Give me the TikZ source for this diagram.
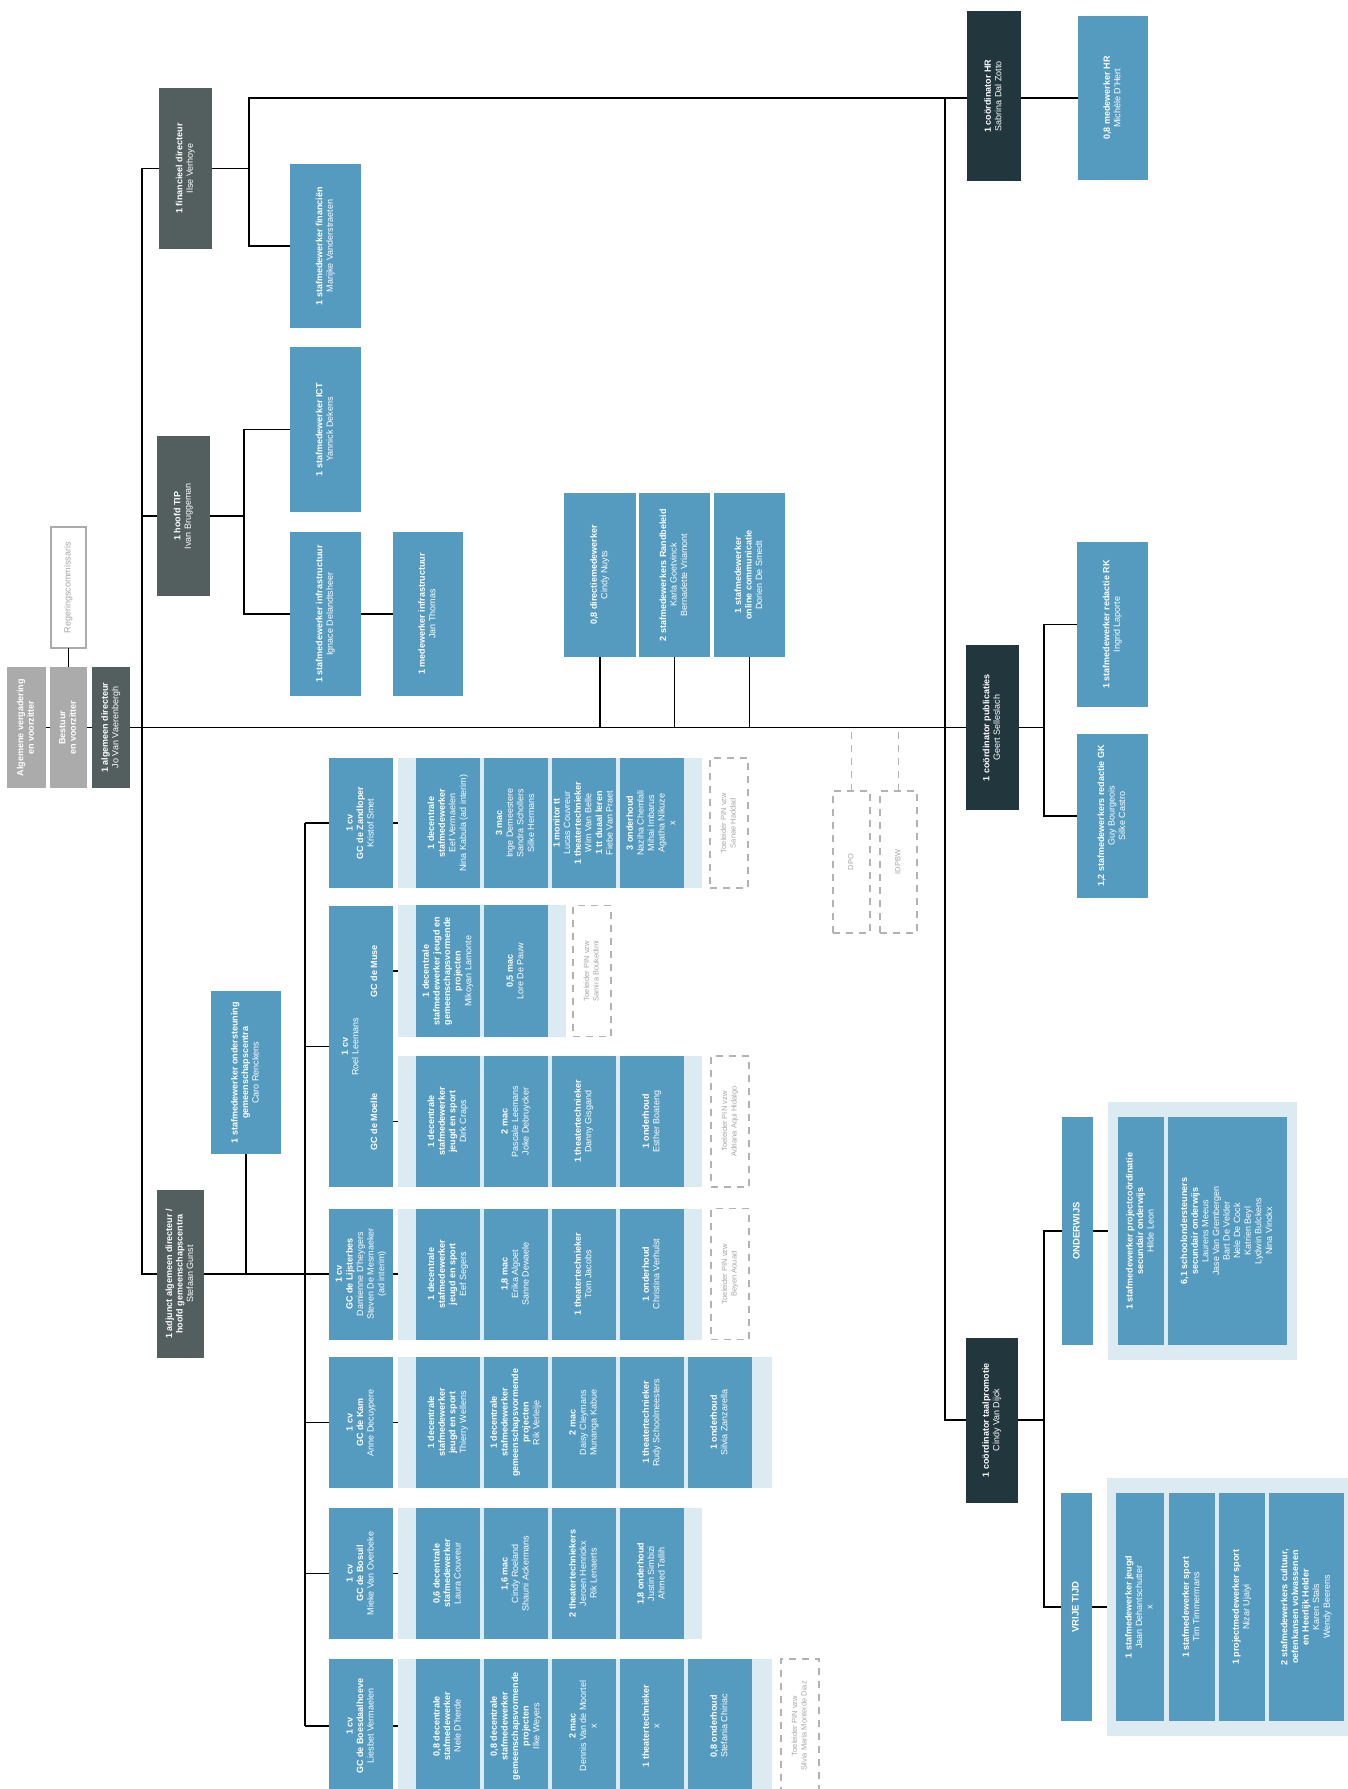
\documentclass[tikz,border=0pt]{standalone}
\usepackage{fontspec}
\setmainfont{Liberation Sans}
\usepackage{graphicx}
\usepackage{xcolor}

\definecolor{dirgrey}{HTML}{525F5E}
\definecolor{navy}{HTML}{22363E}
\definecolor{cellblue}{HTML}{559BBF}
\definecolor{striplight}{HTML}{DCEAF2}
\definecolor{govgrey}{HTML}{ABABAB}
\definecolor{dashgrey}{HTML}{B3B3B3}
\definecolor{textgrey}{HTML}{A6A6A6}

\newcommand{\boxtext}[1]{\rotatebox{90}{\begin{tabular}{@{}c@{}}#1\end{tabular}}}

\begin{document}
\begin{tikzpicture}[x=1pt, y=-1pt,
    box/.style={inner sep=0pt, outer sep=0pt, text=white, font=\fontsize{9}{10.6}\selectfont},
    dirbox/.style={box, fill=dirgrey},
    coordbox/.style={box, fill=navy},
    cell/.style={box, fill=cellblue},
    govbox/.style={box, fill=govgrey},
    strip/.style={inner sep=0pt, outer sep=0pt, fill=striplight},
    pinbox/.style={box, draw=dashgrey, line width=1.8pt, dash pattern=on 7pt off 6pt, text=textgrey, font=\fontsize{7.5}{9.5}\selectfont},
    link/.style={line width=1.4pt},
    duolink/.style={line width=1.8pt, draw=dashgrey, dash pattern=on 7pt off 6pt}]

    \useasboundingbox (0,0) rectangle (1348,1789);
    \clip (0,0) rectangle (1348,1789);
    \fill[white] (0,0) rectangle (1348,1789);

    % bestuur en directie
    \node[govbox, minimum width=39, minimum height=121] (av) at (26.5,727.5) {\boxtext{\textbf{Algemene vergadering}\\\textbf{en voorzitter}}};
    \node[govbox, minimum width=37, minimum height=121] (bestuur) at (68.5,727.5) {\boxtext{\textbf{Bestuur}\\\textbf{en voorzitter}}};
    \node[box, fill=white, draw=govgrey, line width=1.8pt, text=textgrey, minimum width=35, minimum height=121] (rc) at (68.5,587.5) {\boxtext{Regeringscommissaris}};
    \node[dirbox, minimum width=38, minimum height=121] (dir) at (111,727.5) {\boxtext{\textbf{1 algemeen directeur}\\Jo Van Vaerenbergh}};

    \node[dirbox, minimum width=53, minimum height=161] (fin) at (185.5,168.5) {\boxtext{\textbf{1 financieel directeur}\\Ilse Verhoye}};
    \node[cell, minimum width=71, minimum height=164] (sfin) at (325.5,246) {\boxtext{\textbf{1 stafmedewerker financiën}\\Marijke Vanderstraeten}};

    \node[dirbox, minimum width=53, minimum height=160] (tip) at (183.5,516) {\boxtext{\textbf{1 hoofd TIP}\\Ivan Bruggeman}};
    \node[cell, minimum width=71, minimum height=165] (ict) at (325.5,429.5) {\boxtext{\textbf{1 stafmedewerker ICT}\\Yannick Dekens}};
    \node[cell, minimum width=71, minimum height=164] (infra) at (325.5,614) {\boxtext{\textbf{1 stafmedewerker infrastructuur}\\Ignace Delandtsheer}};
    \node[cell, minimum width=70, minimum height=164] (minfra) at (428,614) {\boxtext{\textbf{1 medewerker infrastructuur}\\Jan Thomas}};

    \node[cell, minimum width=72, minimum height=164] (dm1) at (600,575) {\boxtext{\textbf{0,8 directiemedewerker}\\Cindy Nuyts}};
    \node[cell, minimum width=71, minimum height=164] (dm2) at (674.5,575) {\boxtext{\textbf{2 stafmedewerkers Randbeleid}\\Karla Goetvinck\\Bernadette Vriamont}};
    \node[cell, minimum width=71, minimum height=164] (dm3) at (749.5,575) {\boxtext{\textbf{1 stafmedewerker}\\\textbf{online communicatie}\\Dorien De Smedt}};

    \node[pinbox, minimum width=37, minimum height=142] (dpo) at (851.5,862) {\boxtext{DPO}};
    \node[pinbox, minimum width=37, minimum height=142] (idpbw) at (898.5,862) {\boxtext{IDPBW}};

    % coordinatoren
    \node[coordbox, minimum width=54, minimum height=170] (hr) at (994,96) {\boxtext{\textbf{1 coördinator HR}\\Sabrina Dal Zotto}};
    \node[cell, minimum width=70, minimum height=164] (mhr) at (1113,98) {\boxtext{\textbf{0,8 medewerker HR}\\Michèle D'Hert}};

    \node[coordbox, minimum width=53, minimum height=165] (pub) at (992.5,727.5) {\boxtext{\textbf{1 coördinator publicaties}\\Geert Selleslach}};
    \node[cell, minimum width=71, minimum height=165] (rk) at (1112.5,624.5) {\boxtext{\textbf{1 stafmedewerker redactie RK}\\Ingrid Laporte}};
    \node[cell, minimum width=71, minimum height=164] (gk) at (1112.5,816) {\boxtext{\textbf{1,2 stafmedewerkers redactie GK}\\Guy Bourgeois\\Silke Castro}};

    \node[coordbox, minimum width=52, minimum height=165] (taal) at (992,1420) {\boxtext{\textbf{1 coördinator taalpromotie}\\Cindy Van Dijck}};
    \node[cell, minimum width=31, minimum height=228] (ond) at (1077.5,1231) {\boxtext{\fontsize{9.5}{11}\selectfont\textbf{ONDERWIJS}}};
    \node[strip, minimum width=189, minimum height=258] (ondstrip) at (1202.5,1231) {};
    \node[cell, minimum width=46, minimum height=228] (ond1) at (1141,1231) {\boxtext{\textbf{1 stafmedewerker projectcoördinatie}\\\textbf{secundair onderwijs}\\Hilde Leon}};
    \node[cell, minimum width=119, minimum height=228] (ond2) at (1227.5,1231) {\boxtext{\textbf{6,1 schoolondersteuners}\\\textbf{secundair onderwijs}\\Laurens Meeus\\Jase Van Grembergen\\Bart De Velder\\Nele De Cock\\Katrien Beyl\\Lydwin Bulckens\\Nina Vinckx}};

    \node[cell, minimum width=31, minimum height=228] (vt) at (1076.5,1607) {\boxtext{\fontsize{9.5}{11}\selectfont\textbf{VRIJE TIJD}}};
    \node[strip, minimum width=241, minimum height=258] (vtstrip) at (1227.5,1607) {};
    \node[cell, minimum width=48, minimum height=228] (vt1) at (1140,1607) {\boxtext{\textbf{1 stafmedewerker jeugd}\\Jaan Dehantschutter\\x}};
    \node[cell, minimum width=46, minimum height=228] (vt2) at (1192,1607) {\boxtext{\textbf{1 stafmedewerker sport}\\Tim Timmermans}};
    \node[cell, minimum width=46, minimum height=228] (vt3) at (1242,1607) {\boxtext{\textbf{1 projectmedewerker sport}\\Nizar Ujaiyi}};
    \node[cell, minimum width=75, minimum height=228] (vt4) at (1306.5,1607) {\boxtext{\textbf{2 stafmedewerkers cultuur,}\\\textbf{oefenkansen volwassenen}\\\textbf{en Heerlijk Helder}\\Karen Stals\\Wendy Beerens}};

    % gemeenschapscentra
    \node[cell, minimum width=70, minimum height=163] (onst) at (246,1072.5) {\boxtext{\textbf{1 stafmedewerker ondersteuning}\\\textbf{gemeenschapscentra}\\Caro Renckens}};
    \node[dirbox, minimum width=47, minimum height=168] (adj) at (180.5,1274) {\boxtext{\textbf{1 adjunct algemeen directeur /}\\\textbf{hoofd gemeenschapscentra}\\Stefaan Gunst}};

    % GC de Zandloper
    \node[cell, minimum width=64, minimum height=130] (zand) at (361,823) {\boxtext{\textbf{1 cv}\\\textbf{GC de Zandloper}\\Kristof Smet}};
    \node[strip, minimum width=304, minimum height=130] (zandstrip) at (550,823) {};
    \node[cell, minimum width=64, minimum height=130] (zand1) at (448,823) {\boxtext{\textbf{1 decentrale}\\\textbf{stafmedewerker}\\Eef Vermaelen\\Nina Kabula (ad interim)}};
    \node[cell, minimum width=64, minimum height=130] (zand2) at (516,823) {\boxtext{\textbf{3 mac}\\Inge Demeestere\\Sandra Schollers\\Silke Hermans}};
    \node[cell, minimum width=64, minimum height=130] (zand3) at (584,823) {\boxtext{\textbf{1 monitor tt}\\Lucas Couvreur\\\textbf{1 theatertechnieker}\\Wim Van Belle\\\textbf{1 tt duaal leren}\\Fiebe Van Praet}};
    \node[cell, minimum width=64, minimum height=130] (zand4) at (652,823) {\boxtext{\textbf{3 onderhoud}\\Naziha Chemlali\\Mihai Imbarus\\Agatha Nikuze\\x}};
    \node[pinbox, minimum width=38, minimum height=130] (zandpin) at (729,823) {\boxtext{Toeleider PIN vzw\\Sanae Haddad}};

    % GC de Muse en GC de Moelle
    \node[cell, minimum width=64, minimum height=281] (mm) at (361,1046.5) {};
    \node[box] (mmmuse) at (375,971) {\boxtext{\textbf{GC de Muse}}};
    \node[box] (mmcv) at (351,1046.5) {\boxtext{\textbf{1 cv}\\Roel Leemans}};
    \node[box] (mmmoelle) at (375,1121.5) {\boxtext{\textbf{GC de Moelle}}};

    \node[strip, minimum width=168, minimum height=132] (musestrip) at (482,971) {};
    \node[cell, minimum width=64, minimum height=132] (muse1) at (448,971) {\boxtext{\textbf{1 decentrale}\\\textbf{stafmedewerker jeugd en}\\\textbf{gemeenschapsvormende}\\\textbf{projecten}\\Mikoyan Lamonte}};
    \node[cell, minimum width=64, minimum height=132] (muse2) at (516,971) {\boxtext{\textbf{0,5 mac}\\Lore De Pauw}};
    \node[pinbox, minimum width=38, minimum height=131] (musepin) at (592,971) {\boxtext{Toeleider PIN vzw\\Samira Boukedimi}};

    \node[strip, minimum width=304, minimum height=131] (moellestrip) at (550,1121.5) {};
    \node[cell, minimum width=64, minimum height=131] (moelle1) at (448,1121.5) {\boxtext{\textbf{1 decentrale}\\\textbf{stafmedewerker}\\\textbf{jeugd en sport}\\Dirk Craps}};
    \node[cell, minimum width=64, minimum height=131] (moelle2) at (516,1121.5) {\boxtext{\textbf{2 mac}\\Pascale Leemans\\Joke Debruycker}};
    \node[cell, minimum width=64, minimum height=131] (moelle3) at (584,1121.5) {\boxtext{\textbf{1 theatertechnieker}\\Danny Gisgand}};
    \node[cell, minimum width=64, minimum height=131] (moelle4) at (652,1121.5) {\boxtext{\textbf{1 onderhoud}\\Esther Boateng}};
    \node[pinbox, minimum width=38, minimum height=131] (moellepin) at (730,1121.5) {\boxtext{Toeleider PIN vzw\\Adriana Aqui Hidalgo}};

    % GC de Lijsterbes
    \node[cell, minimum width=64, minimum height=131] (lijst) at (361,1274) {\boxtext{\textbf{1 cv}\\\textbf{GC de Lijsterbes}\\Damienne D'heygers\\Steven De Mesmaeker\\(ad interim)}};
    \node[strip, minimum width=304, minimum height=131] (lijststrip) at (550,1274) {};
    \node[cell, minimum width=64, minimum height=131] (lijst1) at (448,1274) {\boxtext{\textbf{1 decentrale}\\\textbf{stafmedewerker}\\\textbf{jeugd en sport}\\Eef Segers}};
    \node[cell, minimum width=64, minimum height=131] (lijst2) at (516,1274) {\boxtext{\textbf{1,8 mac}\\Erika Algoet\\Sanne Dewaele}};
    \node[cell, minimum width=64, minimum height=131] (lijst3) at (584,1274) {\boxtext{\textbf{1 theatertechnieker}\\Tom Jacobs}};
    \node[cell, minimum width=64, minimum height=131] (lijst4) at (652,1274) {\boxtext{\textbf{1 onderhoud}\\Christina Verhulst}};
    \node[pinbox, minimum width=38, minimum height=131] (lijstpin) at (730,1274) {\boxtext{Toeleider PIN vzw\\Beyen Aouad}};

    % GC de Kam
    \node[cell, minimum width=64, minimum height=131] (kam) at (361,1422.5) {\boxtext{\textbf{1 cv}\\\textbf{GC de Kam}\\Anne Decuypere}};
    \node[strip, minimum width=374, minimum height=131] (kamstrip) at (585,1422.5) {};
    \node[cell, minimum width=64, minimum height=131] (kam1) at (448,1422.5) {\boxtext{\textbf{1 decentrale}\\\textbf{stafmedewerker}\\\textbf{jeugd en sport}\\Thierry Wellens}};
    \node[cell, minimum width=64, minimum height=131] (kam2) at (516,1422.5) {\boxtext{\textbf{1 decentrale}\\\textbf{stafmedewerker}\\\textbf{gemeenschapsvormende}\\\textbf{projecten}\\Rik Verleije}};
    \node[cell, minimum width=64, minimum height=131] (kam3) at (584,1422.5) {\boxtext{\textbf{2 mac}\\Daisy Cleymans\\Munanga Kabue}};
    \node[cell, minimum width=64, minimum height=131] (kam4) at (652,1422.5) {\boxtext{\textbf{1 theatertechnieker}\\Rudy Schoolmeesters}};
    \node[cell, minimum width=64, minimum height=131] (kam5) at (720,1422.5) {\boxtext{\textbf{1 onderhoud}\\Silvia Zanzarella}};

    % GC de Bosuil
    \node[cell, minimum width=64, minimum height=131] (bosuil) at (361,1573.5) {\boxtext{\textbf{1 cv}\\\textbf{GC de Bosuil}\\Mieke Van Overbeke}};
    \node[strip, minimum width=304, minimum height=131] (bosuilstrip) at (550,1573.5) {};
    \node[cell, minimum width=64, minimum height=131] (bosuil1) at (448,1573.5) {\boxtext{\textbf{0,6 decentrale}\\\textbf{stafmedewerker}\\Laura Couvreur}};
    \node[cell, minimum width=64, minimum height=131] (bosuil2) at (516,1573.5) {\boxtext{\textbf{1,6 mac}\\Cindy Roeland\\Shauni Ackermans}};
    \node[cell, minimum width=64, minimum height=131] (bosuil3) at (584,1573.5) {\boxtext{\textbf{2 theatertechniekers}\\Jeroen Henrickx\\Rik Lenaerts}};
    \node[cell, minimum width=64, minimum height=131] (bosuil4) at (652,1573.5) {\boxtext{\textbf{1,8 onderhoud}\\Justin Simbizi\\Ahmed Tallih}};

    % GC de Boesdaalhoeve
    \node[cell, minimum width=64, minimum height=134] (boes) at (361,1726) {\boxtext{\textbf{1 cv}\\\textbf{GC de Boesdaalhoeve}\\Liesbet Vermaelen}};
    \node[strip, minimum width=374, minimum height=134] (boesstrip) at (585,1726) {};
    \node[cell, minimum width=64, minimum height=134] (boes1) at (448,1726) {\boxtext{\textbf{0,8 decentrale}\\\textbf{stafmedewerker}\\Nele D'herde}};
    \node[cell, minimum width=64, minimum height=134] (boes2) at (516,1726) {\boxtext{\textbf{0,8 decentrale}\\\textbf{stafmedewerker}\\\textbf{gemeenschapsvormende}\\\textbf{projecten}\\Ilke Weyers}};
    \node[cell, minimum width=64, minimum height=134] (boes3) at (584,1726) {\boxtext{\textbf{2 mac}\\Dennis Van de Moortel\\x}};
    \node[cell, minimum width=64, minimum height=134] (boes4) at (652,1726) {\boxtext{\textbf{1 theatertechnieker}\\x}};
    \node[cell, minimum width=64, minimum height=134] (boes5) at (720,1726) {\boxtext{\textbf{0,8 onderhoud}\\Stefania Chiriac}};
    \node[pinbox, minimum width=38, minimum height=134] (boespin) at (800,1726) {\boxtext{Toeleider PIN vzw\\Silvia Maria Monterde Diaz}};

    % lijnen
    \coordinate (mtop) at (142,168.5);
    \coordinate (mbot) at (142,1274);
    \coordinate (finbus) at (249,98);
    \coordinate (hrbus) at (945,98);
    \coordinate (tipbus) at (244,516);
    \coordinate (pubbus) at (1044,727.5);
    \coordinate (taalbus) at (1044,1420);
    \coordinate (gctop) at (305,823);
    \coordinate (gcbot) at (305,1726);

    \draw[link] (av) -- (bestuur);
    \draw[link] (bestuur) -- (dir);
    \draw[link] (rc) -- (bestuur);
    \draw[link] (dir) -- (pub);

    \draw[link] (fin) -- (mtop) -- (mbot) -- (adj);
    \draw[link] (tip) -- (tip -| mtop);
    \draw[link] (fin) -- (fin -| finbus);
    \draw[link] (sfin) -| (finbus) -- (finbus -| hr.west);
    \draw[link] (hr.east |- mhr) -- (mhr);
    \draw[link] (hrbus) |- (taal);

    \draw[link] (tip) -- (tipbus);
    \draw[link] (ict) -| (tipbus) |- (infra);
    \draw[link] (infra) -- (minfra);

    \draw[link] (dm1) -- (dm1 |- dir);
    \draw[link] (dm2) -- (dm2 |- dir);
    \draw[link] (dm3) -- (dm3 |- dir);
    \draw[duolink] (dpo) -- (dpo |- dir);
    \draw[duolink] (idpbw) -- (idpbw |- dir);

    \draw[link] (pub) -- (pubbus);
    \draw[link] (rk) -| (pubbus) |- (gk);

    \draw[link] (taal) -- (taalbus);
    \draw[link] (ond) -| (taalbus) |- (vt);
    \draw[link] (ond) -- (ondstrip);
    \draw[link] (vt) -- (vtstrip);

    \draw[link] (onst) -- (onst |- adj);
    \draw[link] (adj) -- (lijst);
    \draw[link] (gctop) -- (gcbot);
    \draw[link] (zand) -- (gctop);
    \draw[link] (mm) -- (mm -| gctop);
    \draw[link] (kam) -- (kam -| gctop);
    \draw[link] (bosuil) -- (bosuil -| gctop);
    \draw[link] (boes) -- (gcbot);

    \draw[link] (zand) -- (zandstrip);
    \draw[link] (mm.east |- musestrip) -- (musestrip);
    \draw[link] (mm.east |- moellestrip) -- (moellestrip);
    \draw[link] (lijst) -- (lijststrip);
    \draw[link] (kam) -- (kamstrip);
    \draw[link] (bosuil) -- (bosuilstrip);
    \draw[link] (boes) -- (boesstrip);

\end{tikzpicture}
\end{document}
